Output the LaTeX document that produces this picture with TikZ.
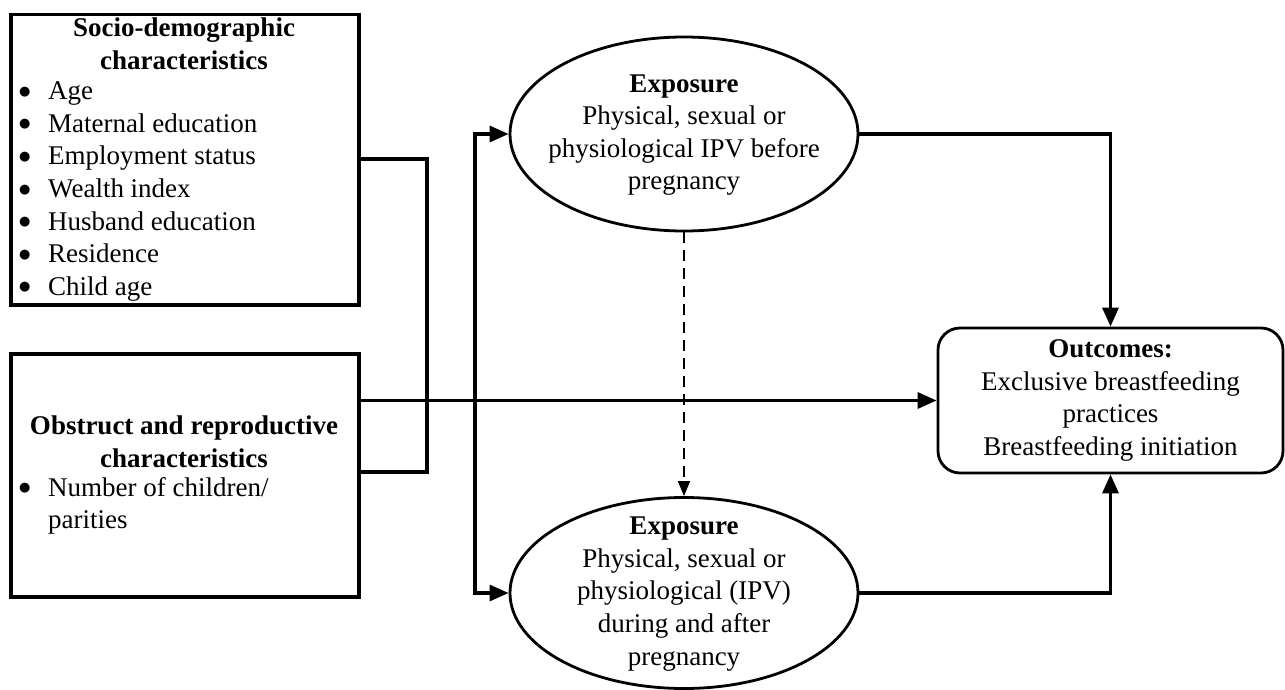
\documentclass[tikz,border=0pt]{standalone}
\usepackage{fontspec}
\setmainfont{Liberation Serif}
\newfontfamily\symf{DejaVu Sans}
\usetikzlibrary{arrows.meta,shapes.geometric}
\newcommand{\bigbul}{\raisebox{4.5pt}{\symf\fontsize{13}{13}\selectfont ●}}
\begin{document}
\begin{tikzpicture}[x=1pt,y=-1pt,
  box/.style={draw, line width=3.5pt, minimum width=348pt, anchor=north west, inner sep=0pt},
  ell/.style={draw, ellipse, line width=2.8pt, minimum width=348pt, inner sep=0pt},
  txt/.style={font=\fontsize{27}{32.6}\selectfont, align=center, inner sep=0pt},
  lst/.style={font=\fontsize{27}{32.6}\selectfont, inner sep=0pt, anchor=west},
  conn/.style={line width=3.2pt},
  arr/.style={conn, -{Triangle[length=19pt,width=16pt]}},
  darr/.style={line width=1.5pt, dash pattern=on 11pt off 7pt, -{Triangle[length=15pt,width=12pt]}}
]
\useasboundingbox (0,0) rectangle (1285,690);

% left boxes
\node[box, minimum height=290pt] (socio) at (9,13) {};
\node[txt, font=\fontsize{27}{32.6}\selectfont\bfseries] (socioh) at (184,44) {Socio-demographic\\characteristics};
\node[lst] (sociol) at (19,191) {\begin{tabular}{@{}p{29pt}@{}l@{}}
\bigbul & Age\\
\bigbul & Maternal education\\
\bigbul & Employment status\\
\bigbul & Wealth index\\
\bigbul & Husband education\\
\bigbul & Residence\\
\bigbul & Child age
\end{tabular}};

\node[box, minimum height=243pt] (obst) at (9,352) {};
\node[txt, font=\fontsize{27}{32.6}\selectfont\bfseries] (obsth) at (184,442) {Obstruct and reproductive\\characteristics};
\node[lst] (obstl) at (19,506) {\begin{tabular}{@{}p{29pt}@{}l@{}}
\bigbul & Number of children/\\
 & parities
\end{tabular}};

% ellipses
\node[ell, minimum height=194pt] (exp1) at (684,134) {};
\node[txt] (exp1t) at (684,135) {\textbf{Exposure}\\Physical, sexual or\\physiological IPV before\\pregnancy};
\node[ell, minimum height=191pt] (exp2) at (684,593) {};
\node[txt] (exp2t) at (684,594) {\textbf{Exposure}\\Physical, sexual or\\physiological (IPV)\\during and after\\pregnancy};

% outcomes
\node[draw, rounded corners=22pt, line width=2.8pt, minimum width=345pt, minimum height=145pt,
      font=\fontsize{27}{32.6}\selectfont, align=center, inner sep=0pt] (out) at (1110.5,400.5)
  {\textbf{Outcomes:}\\Exclusive breastfeeding\\practices\\Breastfeeding initiation};

% connectors
\coordinate (b1) at (427,159);
\coordinate (b2) at (427,472);
\draw[conn] (socio.east |- b1) -- (b1) -- (b2) -- (obst.east |- b2);

\draw[arr] (obst.east |- out.west) -- (out.west);

\coordinate (sx) at (475,400.5);
\draw[arr] (sx) |- (exp1.west);
\draw[arr] (sx) |- (exp2.west);

\draw[arr] (exp1.east) -| (out.north);
\draw[arr] (exp2.east) -| (out.south);

\draw[darr] (exp1.south) -- (exp2.north);
\end{tikzpicture}
\end{document}
